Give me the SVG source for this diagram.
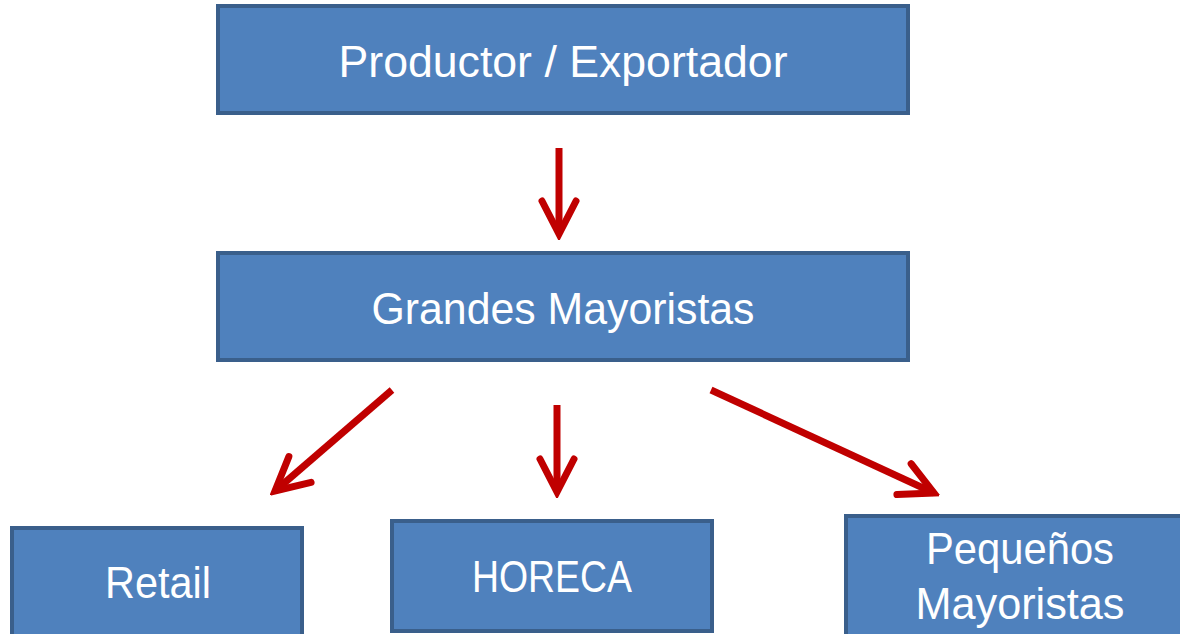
<svg xmlns="http://www.w3.org/2000/svg" width="1180" height="634" viewBox="0 0 1180 634">
<defs>
<style>
.box{fill:#4F81BD;stroke:#3A5F8B;stroke-width:4}
.lbl{fill:#FFFFFF;font-family:"Liberation Sans",Arial,sans-serif;font-size:45px;text-anchor:middle}
.conn{fill:none;stroke:#C00000;stroke-width:7}
</style>
<marker id="head" markerUnits="userSpaceOnUse" viewBox="-40 -22 46 44" refX="0" refY="0" markerWidth="46" markerHeight="44" orient="auto">
<path d="M-33,-17 L0,0 L-33,17" fill="none" stroke="#C00000" stroke-width="7" stroke-linecap="round" stroke-linejoin="miter"/>
</marker>
</defs>
<rect width="1180" height="634" fill="#FFFFFF"/>
<g id="connectors">
<path class="conn" d="M559,148 L559,234" marker-end="url(#head)"/>
<path class="conn" d="M392,390 L275,491" marker-end="url(#head)"/>
<path class="conn" d="M557,405 L557,492" marker-end="url(#head)"/>
<path class="conn" d="M711,390 L934,493" marker-end="url(#head)"/>
</g>
<g id="productor">
<rect class="box" x="218" y="6" width="690" height="107"/>
<text class="lbl" x="563" y="77" textLength="449" lengthAdjust="spacingAndGlyphs">Productor / Exportador</text>
</g>
<g id="grandes">
<rect class="box" x="218" y="253" width="690" height="107"/>
<text class="lbl" x="563" y="324" textLength="383" lengthAdjust="spacingAndGlyphs">Grandes Mayoristas</text>
</g>
<g id="retail">
<rect class="box" x="12" y="528" width="290" height="110"/>
<text class="lbl" x="158" y="598" textLength="106" lengthAdjust="spacingAndGlyphs">Retail</text>
</g>
<g id="horeca">
<rect class="box" x="392" y="521" width="320" height="110"/>
<text class="lbl" x="552" y="592" textLength="160" lengthAdjust="spacingAndGlyphs">HORECA</text>
</g>
<g id="pequenos">
<rect class="box" x="846" y="516" width="340" height="122"/>
<text class="lbl" x="1020" y="564" textLength="188" lengthAdjust="spacingAndGlyphs">Pequeños</text>
<text class="lbl" x="1020" y="619" textLength="209" lengthAdjust="spacingAndGlyphs">Mayoristas</text>
</g>
</svg>
